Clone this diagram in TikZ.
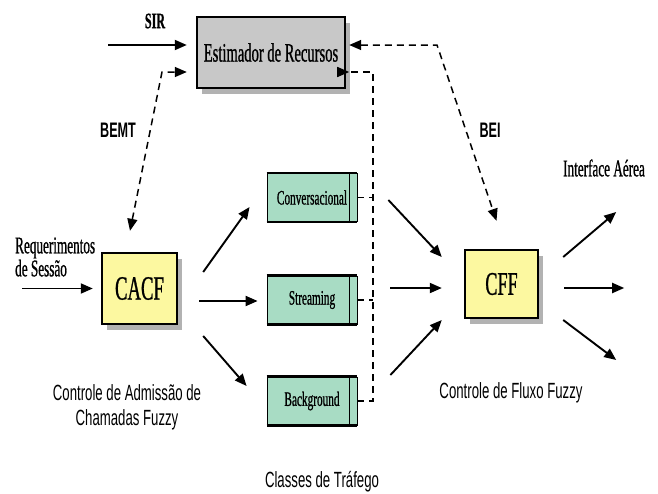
\documentclass[tikz,border=0pt]{standalone}
\usepackage{fontspec}
\usepackage{tikz}
\usetikzlibrary{arrows.meta}
\usetikzlibrary{shadows}
\newfontfamily\narrowserif[FakeStretch=0.55,FakeBold=0.8]{Liberation Serif}
\newfontfamily\narrowsans[FakeStretch=0.6]{Liberation Sans}
\definecolor{estgray}{RGB}{200,200,200}
\definecolor{fuzzyyellow}{RGB}{252,248,160}
\definecolor{classgreen}{RGB}{168,220,196}
\tikzset{
  shadowbox/.style={draw, line width=2.4pt,
    drop shadow={shadow xshift=5pt, shadow yshift=-6pt, fill=black!60, opacity=0.5}},
  classbox/.style={draw, line width=0.8pt, fill=classgreen, minimum width=90pt,
    minimum height=48pt, inner sep=0pt, font=\narrowserif\fontsize{20.5}{22}\selectfont},
  arr/.style={line width=1.9pt, ->},
  dsh/.style={line width=1.5pt, dash pattern=on 7pt off 5pt},
  >={Triangle[length=12pt,width=10pt]}
}

\begin{document}
\begin{tikzpicture}[x=1pt,y=-1pt]
  \useasboundingbox (0,0) rectangle (658,493);

  % Blocks
  \node[shadowbox, fill=estgray, minimum width=148pt, minimum height=71pt,
        font=\narrowserif\fontsize{26.5}{28}\selectfont] (est) at (271,52.5) {Estimador de Recursos};
  \node[shadowbox, fill=fuzzyyellow, minimum width=75pt, minimum height=71pt,
        font=\narrowserif\fontsize{34}{36}\selectfont] (cacf) at (139.5,288.5) {CACF};
  \node[shadowbox, fill=fuzzyyellow, minimum width=73pt, minimum height=68pt,
        font=\narrowserif\fontsize{33}{35}\selectfont] (cff) at (501.5,284) {CFF};

  % Traffic classes
  \node[classbox] (conv) at (312,197.5) {Conversacional};
  \node[classbox] (strm) at (312,300) {Streaming};
  \node[classbox] (bkg) at (312,401) {Background};
  \foreach \c in {conv,strm,bkg}{
    \draw[line width=2.6pt] (\c.north west) -- (\c.north east) (\c.south west) -- (\c.south east);
    \draw[line width=0.8pt] ([xshift=-8pt]\c.north east) -- ([xshift=-8pt]\c.south east);
  }

  % Free ends
  \coordinate (sirin) at (108,45);
  \coordinate (reqin) at (22,288.5);
  \coordinate (beicorner) at (437,45);
  \coordinate (bemtcorner) at (162,72);
  \coordinate (bus) at (373,72);

  % Feedback (dashed)
  \draw[dsh,<->] ([shift={(3,-7.5)}]est.east) -- (beicorner) -- ([shift={(-5,-28)}]cff.north);
  \draw[dsh,<->] ([shift={(-9.5,-21)}]cacf.north) -- (bemtcorner) -- ([shift={(-9,19.5)}]est.west);
  \draw[dsh,->] (bkg.east) -- (bus |- bkg.east) -- (bus) -- (bus -| est.east) -- ([xshift=3pt]bus -| est.east);
  \draw[dsh] (conv.east) -- (bus |- conv.east);
  \draw[dsh] (strm.east) -- (bus |- strm.east);

  % Inputs
  \draw[arr] (sirin) -- ([shift={(-9,-7.5)}]est.west);
  \draw[arr] (reqin) -- ([xshift=-8pt]cacf.west);

  % CACF -> classes
  \draw[arr] ([shift={(25,-16.5)}]cacf.east) -- ([shift={(-17,9.5)}]conv.west);
  \draw[arr] ([shift={(21,12.5)}]cacf.east) -- ([shift={(-9,1)}]strm.west);
  \draw[arr] ([shift={(25,47.5)}]cacf.east) -- ([shift={(-20,-15)}]bkg.west);

  % classes -> CFF
  \draw[arr] ([shift={(31,2.5)}]conv.east) -- ([shift={(-22,-27)}]cff.west);
  \draw[arr] ([shift={(33,-12)}]strm.east) -- ([shift={(-22,4)}]cff.west);
  \draw[arr] ([shift={(33,-26)}]bkg.east) -- ([shift={(-22,36)}]cff.west);

  % CFF -> air interface
  \draw[arr] ([shift={(24,-27)}]cff.east) -- ([shift={(77,-72)}]cff.east);
  \draw[arr] ([shift={(25,4)}]cff.east) -- ([shift={(85,4)}]cff.east);
  \draw[arr] ([shift={(24,36)}]cff.east) -- ([shift={(77,76)}]cff.east);

  % Labels
  \node[font=\narrowserif\bfseries\fontsize{22}{24}\selectfont] (sir) at (155,21) {SIR};
  \node[font=\narrowsans\bfseries\fontsize{21}{23}\selectfont] (bemt) at (118,130) {BEMT};
  \node[font=\narrowsans\bfseries\fontsize{21}{23}\selectfont] (bei) at (490,130) {BEI};
  \node[font=\narrowserif\fontsize{24}{26}\selectfont] (air) at (604,168) {Interface Aérea};
  \node[font=\narrowserif\fontsize{24}{23}\selectfont, align=left, anchor=west, inner sep=0pt]
    (req) at (15,257) {Requerimentos\\de Sessão};
  \node[font=\narrowsans\fontsize{22}{25}\selectfont, align=center] (cacflbl) at (127,407)
    {Controle de Admissão de\\Chamadas Fuzzy};
  \node[font=\narrowsans\fontsize{22}{25}\selectfont] (cfflbl) at (511,393) {Controle de Fluxo Fuzzy};
  \node[font=\narrowsans\fontsize{22}{25}\selectfont] (classlbl) at (322,482) {Classes de Tráfego};
\end{tikzpicture}
\end{document}
